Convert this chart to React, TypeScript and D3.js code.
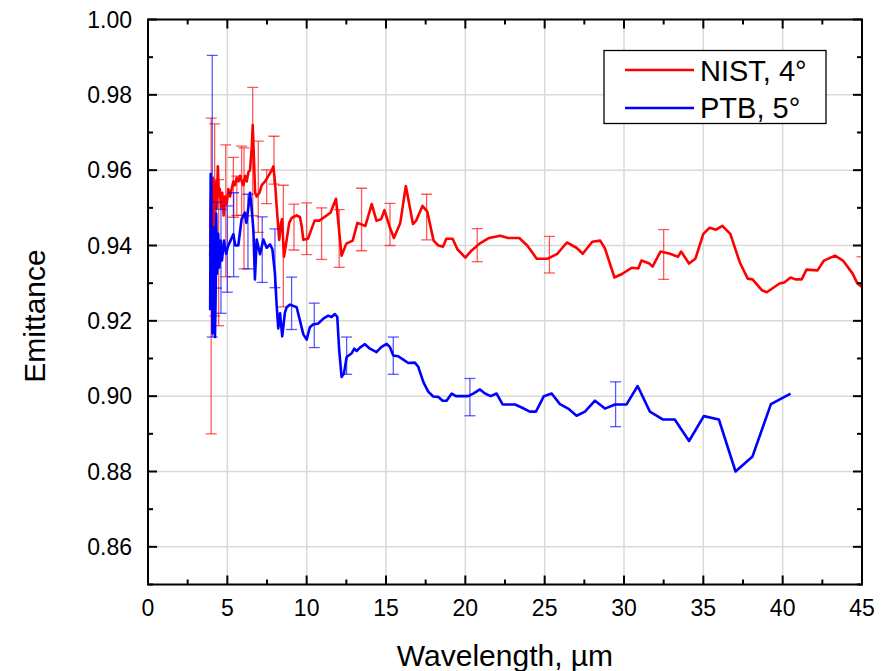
import React from 'react';
import * as d3 from 'd3';

// ---------------- data ----------------
const nistX = [3.92,3.96,4.0,4.03,4.06,4.1,4.15,4.21,4.28,4.34,4.4,4.47,4.53,4.6,4.68,4.77,4.85,4.96,5.06,5.17,5.27,5.38,5.48,5.59,5.7,5.8,5.91,6.01,6.12,6.22,6.33,6.43,6.54,6.6,6.66,6.75,6.85,7.02,7.17,7.38,7.59,7.8,7.9,8.0,8.15,8.27,8.38,8.45,8.57,8.74,8.9,9.05,9.37,9.58,9.69,9.79,10.08,10.5,10.8,11.5,11.85,12.2,12.5,12.9,13.2,13.7,14.1,14.4,14.7,14.9,15.25,15.5,15.9,16.25,16.7,16.9,17.3,17.6,18.0,18.3,18.6,18.8,19.2,19.5,20.0,20.4,20.9,21.5,22.2,22.7,23.4,23.9,24.5,25.2,25.8,26.4,27.0,27.4,28.0,28.5,28.8,29.4,29.9,30.5,30.9,31.1,31.6,31.8,32.3,32.9,33.4,33.6,34.1,34.5,35.0,35.4,35.8,36.2,36.7,37.3,37.8,38.1,38.7,39.0,39.8,40.1,40.5,40.8,41.2,41.5,42.2,42.6,43.3,43.8,44.4,44.7,45.0];
const nistY = [0.937,0.952,0.955,0.94,0.948,0.958,0.945,0.952,0.957,0.95,0.961,0.953,0.955,0.95,0.954,0.948,0.953,0.951,0.955,0.953,0.955,0.957,0.956,0.958,0.957,0.9585,0.957,0.956,0.9585,0.957,0.9595,0.96,0.966,0.972,0.965,0.954,0.953,0.954,0.956,0.957,0.9585,0.96,0.961,0.957,0.948,0.9415,0.946,0.947,0.937,0.9415,0.946,0.9473,0.948,0.9475,0.945,0.9415,0.9418,0.9466,0.9466,0.9487,0.9524,0.9373,0.9405,0.9413,0.946,0.9452,0.951,0.9466,0.947,0.9494,0.9447,0.942,0.946,0.9558,0.9457,0.9466,0.9505,0.949,0.9413,0.94,0.9397,0.9418,0.9418,0.939,0.9368,0.9387,0.9405,0.942,0.9426,0.942,0.942,0.94,0.9365,0.9365,0.9378,0.9408,0.9394,0.9378,0.941,0.9413,0.9392,0.9315,0.9325,0.9341,0.9339,0.936,0.9352,0.9344,0.9384,0.9378,0.937,0.9384,0.9352,0.9365,0.9431,0.9447,0.9442,0.9452,0.9431,0.9355,0.9312,0.931,0.9281,0.9276,0.9299,0.9302,0.9315,0.931,0.931,0.9336,0.9334,0.936,0.9373,0.936,0.9326,0.93,0.929];

const ptbX = [3.92,3.95,3.98,4.02,4.06,4.1,4.14,4.18,4.22,4.26,4.3,4.35,4.42,4.5,4.58,4.66,4.79,4.92,5.06,5.2,5.38,5.5,5.69,5.9,6.1,6.2,6.32,6.43,6.53,6.64,6.74,6.85,7.06,7.27,7.48,7.69,7.84,8.0,8.11,8.21,8.32,8.46,8.63,8.74,8.95,9.37,9.58,9.79,10.0,10.2,10.4,10.73,11.05,11.36,11.57,11.78,11.93,12.05,12.2,12.35,12.52,12.84,13.0,13.15,13.36,13.67,13.99,14.4,14.7,15.04,15.25,15.46,15.77,16.09,16.4,16.82,17.03,17.35,17.66,17.98,18.3,18.57,18.82,19.14,19.41,20.18,20.5,20.92,21.24,21.6,21.97,22.35,23.13,23.55,24.07,24.45,24.95,25.44,25.96,26.48,27.01,27.54,28.17,28.8,29.43,30.16,30.86,31.63,32.47,33.2,34.1,35.03,35.98,37.03,38.1,39.26,40.5];
const ptbY = [0.9228,0.959,0.9325,0.9448,0.9167,0.94,0.922,0.9448,0.9157,0.9254,0.9484,0.9325,0.9431,0.9342,0.9413,0.936,0.9413,0.9378,0.94,0.9413,0.943,0.94,0.94,0.947,0.9487,0.946,0.95,0.954,0.95,0.9443,0.931,0.9416,0.9377,0.9416,0.9394,0.9403,0.939,0.9326,0.924,0.918,0.922,0.9159,0.9222,0.9236,0.9243,0.9236,0.92,0.9164,0.915,0.9183,0.919,0.9193,0.9206,0.9214,0.921,0.9218,0.921,0.9122,0.9051,0.906,0.9104,0.9114,0.9126,0.912,0.9129,0.9138,0.9126,0.9117,0.913,0.9139,0.913,0.9108,0.9106,0.9097,0.9088,0.9089,0.9078,0.9038,0.9012,0.8999,0.8998,0.8988,0.8988,0.9007,0.9,0.9,0.9007,0.9018,0.9007,0.9,0.9007,0.8978,0.8978,0.897,0.8959,0.8959,0.9,0.9007,0.8979,0.8967,0.8948,0.8959,0.8988,0.8967,0.8978,0.8978,0.9027,0.8959,0.8938,0.8938,0.8881,0.8947,0.8938,0.88,0.884,0.8979,0.9007];

const nistErrX = [3.98,4.2,4.45,4.9,5.38,5.6,5.9,6.05,6.6,6.95,7.48,7.94,8.53,9.2,10.0,10.94,12.05,13.46,15.25,17.56,20.75,25.3,32.5,45.0];
const nistErrLo = [0.89,0.9213,0.9187,0.9317,0.9475,0.948,0.948,0.9338,0.9479,0.9435,0.9511,0.9563,0.9237,0.9388,0.9376,0.9363,0.9342,0.9386,0.94,0.9415,0.9357,0.9327,0.931,0.92];
const nistErrHi = [0.9738,0.9723,0.9575,0.9667,0.9634,0.9584,0.9664,0.9659,0.982,0.9677,0.9601,0.969,0.956,0.951,0.9513,0.95,0.9495,0.9552,0.9512,0.9536,0.9445,0.9424,0.9442,0.937];

const ptbErrX = [4.05,4.3,4.6,5.0,5.4,6.3,7.2,8.0,9.05,10.48,12.52,15.46,20.29,29.47];
const ptbErrLo = [0.9157,0.9287,0.922,0.9276,0.9317,0.9338,0.9302,0.9288,0.9177,0.9129,0.9058,0.9058,0.8948,0.8919];
const ptbErrHi = [0.9905,0.9515,0.9496,0.9505,0.954,0.9536,0.9476,0.9444,0.9316,0.9247,0.9157,0.9157,0.9047,0.9038];

const xTicks = [0,5,10,15,20,25,30,35,40,45];
const yTicks = [0.86,0.88,0.90,0.92,0.94,0.96,0.98,1.00];
const seriesNames = ['NIST, 4°','PTB, 5°'];
const seriesColors = ['#ff0000','#0000ff'];

// ---------------- layout ----------------
const W = 882, H = 671;
const L = 148, R = 862, T = 19.5, B = 584.5;
const FONT = '"Liberation Sans", Arial, sans-serif';

export default function App() {
  const x = d3.scaleLinear().domain([0, 45]).range([L, R]);
  const y = d3.scaleLinear().domain([0.85, 1.0]).range([B, T]);
  const mk = (xs: number[], ys: number[]) =>
    d3.line<number>().x((_, i) => x(xs[i])).y((_, i) => y(ys[i]))(xs as any) || '';
  const xMinor = d3.range(2.5, 45, 5);
  const yMinor = d3.range(0.85, 1.0, 0.02);
  const maj = 9, mn = 5;

  const errBars = (xs: number[], lo: number[], hi: number[], color: string) =>
    xs.map((v, i) => {
      const cx = x(v), y1 = y(lo[i]), y2 = y(hi[i]);
      return (
        <g key={i} stroke={color} strokeWidth={1.3} strokeOpacity={0.65}>
          <line x1={cx} x2={cx} y1={y1} y2={y2} />
          <line x1={cx - 5.5} x2={cx + 5.5} y1={y1} y2={y1} />
          <line x1={cx - 5.5} x2={cx + 5.5} y1={y2} y2={y2} />
        </g>
      );
    });

  return (
    <svg width={W} height={H} style={{ position: 'absolute', left: 0, top: 0, background: '#fff' }} fontFamily={FONT}>
      <defs>
        <clipPath id="plotclip"><rect x={L} y={T} width={R - L} height={B - T} /></clipPath>
      </defs>
      <rect x={0} y={0} width={W} height={H} fill="#fff" />
      {/* grid */}
      <g stroke="#d9d9d9" strokeWidth={1.5}>
        {xTicks.slice(1, -1).map(t => <line key={'gx' + t} x1={x(t)} x2={x(t)} y1={T} y2={B} />)}
        {yTicks.slice(0, -1).map(t => <line key={'gy' + t} x1={L} x2={R} y1={y(t)} y2={y(t)} />)}
      </g>
      {/* data */}
      <g clipPath="url(#plotclip)">
        {errBars(nistErrX, nistErrLo, nistErrHi, seriesColors[0])}
        <path d={mk(nistX, nistY)} fill="none" stroke={seriesColors[0]} strokeWidth={2.6} strokeLinejoin="round" />
        {errBars(ptbErrX, ptbErrLo, ptbErrHi, seriesColors[1])}
        <path d={mk(ptbX, ptbY)} fill="none" stroke={seriesColors[1]} strokeWidth={2.6} strokeLinejoin="round" />
      </g>
      {/* frame */}
      <rect x={L} y={T} width={R - L} height={B - T} fill="none" stroke="#000" strokeWidth={2} />
      <g stroke="#000" strokeWidth={2}>
        {xTicks.map(t => (
          <g key={'xt' + t}>
            <line x1={x(t)} x2={x(t)} y1={B} y2={B - maj} />
            <line x1={x(t)} x2={x(t)} y1={T} y2={T + maj} />
          </g>
        ))}
        {xMinor.map(t => (
          <g key={'xm' + t}>
            <line x1={x(t)} x2={x(t)} y1={B} y2={B - mn} />
            <line x1={x(t)} x2={x(t)} y1={T} y2={T + mn} />
          </g>
        ))}
        {yTicks.map(t => (
          <g key={'yt' + t}>
            <line x1={L} x2={L + maj} y1={y(t)} y2={y(t)} />
            <line x1={R} x2={R - maj} y1={y(t)} y2={y(t)} />
          </g>
        ))}
        {yMinor.map(t => (
          <g key={'ym' + t}>
            <line x1={L} x2={L + mn} y1={y(t)} y2={y(t)} />
            <line x1={R} x2={R - mn} y1={y(t)} y2={y(t)} />
          </g>
        ))}
      </g>
      {/* tick labels */}
      <g fontSize={23} fill="#000">
        {xTicks.map(t => (
          <text key={'xl' + t} x={x(t)} y={B + 31} textAnchor="middle">{t}</text>
        ))}
        {yTicks.map(t => (
          <text key={'yl' + t} x={L - 16} y={y(t) + 8} textAnchor="end">{d3.format('.2f')(t)}</text>
        ))}
      </g>
      {/* axis titles */}
      <text x={505} y={666} textAnchor="middle" fontSize={30}>Wavelength, µm</text>
      <text transform={`translate(45, ${(T + B) / 2 + 14}) rotate(-90)`} textAnchor="middle" fontSize={30}>Emittance</text>
      {/* legend */}
      <g>
        <rect x={604} y={50.5} width={222} height={73} fill="#fff" stroke="#000" strokeWidth={1.3} />
        {seriesNames.map((n, i) => (
          <g key={n}>
            <line x1={625} x2={694} y1={70 + i * 38} y2={70 + i * 38} stroke={seriesColors[i]} strokeWidth={2.6} />
            <text x={700} y={80.5 + i * 37.5} fontSize={29}>{n}</text>
          </g>
        ))}
      </g>
    </svg>
  );
}
